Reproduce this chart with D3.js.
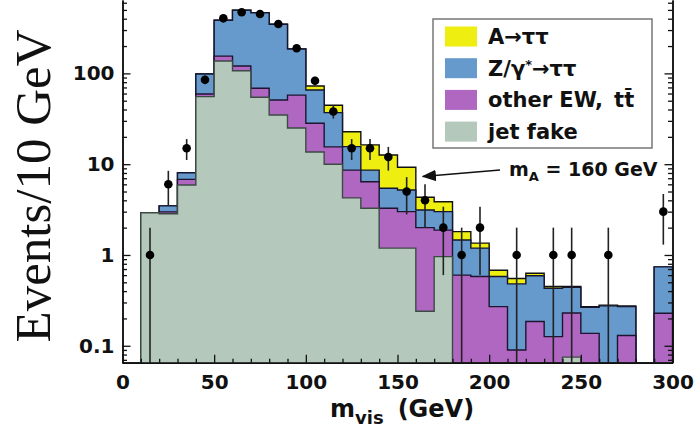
<!DOCTYPE html>
<html>
<head>
<meta charset="utf-8">
<script src="https://cdn.jsdelivr.net/npm/d3@7/dist/d3.min.js"></script>
<style>
  body { margin: 0; background: #fff; }
  svg { display: block; }
</style>
</head>
<body>
<svg id="chart" width="700" height="444"></svg>
<script>
// Visible-mass bins, 10 GeV wide (lower edges)
const binLow = [0, 10, 20, 30, 40, 50, 60, 70, 80, 90, 100, 110, 120, 130, 140,
                150, 160, 170, 180, 190, 200, 210, 220, 230, 240, 250, 260, 270, 280, 290];

// Expected events per bin for each process (stacked bottom to top)
const jetFake = [0, 2.92, 2.85, 5.9, 55.4, 137, 107, 54.6, 34.8, 25, 13.6, 10.0, 4.25, 3.27, 1.19,
                 1.19, 0.24, 0.96, 0, 0, 0, 0, 0, 0, 0.075, 0, 0, 0, 0, 0];
const otherEW = [0, 0, 0.13, 0.9, 3.9, 18, 13.5, 13.9, 16.2, 32.6, 14.6, 5.5, 4.35, 3.13, 2.08,
                 1.81, 1.76, 0.92, 0.60, 0.58, 0.27, 0.09, 0.185, 0.126, 0.155, 0.137, 0, 0.13, 0, 0.228];
const zTauTau = [0, 0, 0.49, 1.26, 39.2, 230, 375, 396, 297, 128, 37.4, 21.5, 7.0, 2.2, 2.16,
                 2.2, 1.13, 1.12, 0.86, 0.61, 0.31, 0.39, 0.405, 0.304, 0.21, 0.128, 0.275, 0.14, 0, 0.512];
const aTauTau = [0, 0, 0, 0, 0, 0, 0, 0, 0, 0.5, 7, 7.5, 7.2, 7.7, 7.17,
                 4.05, 1.19, 0.86, 0.35, 0.16, 0.10, 0.07, 0.04, 0.02, 0.01, 0.005, 0.005, 0.005, 0, 0];

// Observed data: bin centres, counts and error half-widths
const dataMass = [15, 25, 35, 45, 55, 65, 75, 85, 95, 105, 115, 125, 135, 145, 155, 165, 175,
                  185, 195, 215, 235, 245, 265, 295];
const dataCount = [1, 6, 15, 85, 404, 471, 451, 350, 189, 83, 38, 15, 15, 12, 5, 4, 2,
                   1, 2, 1, 1, 1, 1, 3];
const dataErr = [1, 2.45, 3.9, 9.2, 20, 21.7, 21.2, 18.7, 13.7, 9.1, 6.2, 3.9, 3.9, 3.5, 2.2, 2, 1.4,
                 1, 1.4, 1, 1, 1, 1, 1.7];

// Axis ticks
const xMajorTicks = [0, 50, 100, 150, 200, 250, 300];
const xMinorTicks = [10, 20, 30, 40, 60, 70, 80, 90, 110, 120, 130, 140, 160, 170, 180, 190,
                     210, 220, 230, 240, 260, 270, 280, 290];
const yMajorTicks = [0.1, 1, 10, 100];
const yTickLabels = ["0.1", "1", "10", "100"];

// Process keys and colours
const procKeys = ["jet", "ew", "z", "a"];
const procFill = { a: "#eeee10", z: "#6699cc", ew: "#b067c2", jet: "#b4c9bc" };
const procStroke = { a: "#111", z: "#151530", ew: "#1d1530", jet: "#3c4a44" };

const svg = d3.select("#chart");
const plotLeft = 122.5, plotRight = 672.5, plotBottom = 362.7, plotTop = 0;
const yMin = 0.0651, yMax = 643;

const x = d3.scaleLinear().domain([0, 300]).range([plotLeft, plotRight]);
const y = d3.scaleLog().domain([yMin, yMax]).range([plotBottom, plotTop]).clamp(true);
const yv = v => (v > yMin ? y(v) : plotBottom);

// Stack the processes
const rows = binLow.map((lo, i) => ({
  lo, jet: jetFake[i], ew: otherEW[i], z: zTauTau[i], a: aTauTau[i]
}));
const stacked = d3.stack().keys(procKeys)(rows);

const area = d3.area().x(d => d[0]).y0(plotBottom).y1(d => d[1]);
const line = d3.line().x(d => d[0]).y(d => d[1]);

const histG = svg.append("g");
// Draw cumulative histograms from the total downwards
stacked.slice().reverse().forEach(layer => {
  const pts = [];
  layer.forEach((d, i) => {
    const cum = d[1];
    pts.push([x(binLow[i]), yv(cum)]);
    pts.push([x(binLow[i] + 10), yv(cum)]);
  });
  histG.append("path")
    .attr("d", area(pts))
    .attr("fill", procFill[layer.key]);
  histG.append("path")
    .attr("d", line([[plotLeft, plotBottom], ...pts, [plotRight, plotBottom]]))
    .attr("fill", "none")
    .attr("stroke", procStroke[layer.key])
    .attr("stroke-width", 1.4);
});

// Data points with error bars
const dataG = svg.append("g");
dataMass.forEach((m, i) => {
  const n = dataCount[i], e = dataErr[i];
  dataG.append("line")
    .attr("x1", x(m)).attr("x2", x(m))
    .attr("y1", yv(n + e)).attr("y2", yv(n - e))
    .attr("stroke", "#222").attr("stroke-width", 1.6);
  dataG.append("circle")
    .attr("cx", x(m)).attr("cy", y(n)).attr("r", 4.3)
    .attr("fill", "#000");
});

// Axes
const tickFont = g => g.selectAll("text")
  .attr("font-family", "DejaVu Sans").attr("font-weight", "bold")
  .attr("font-size", 20).attr("fill", "#111");
const axisStyle = g => {
  g.select(".domain").attr("stroke", "#111").attr("stroke-width", 1.5);
  g.selectAll(".tick line").attr("stroke", "#111").attr("stroke-width", 1.3);
};

svg.append("g").attr("transform", `translate(0,${plotBottom})`)
  .call(d3.axisBottom(x).tickValues(xMinorTicks).tickSize(-4).tickSizeOuter(0).tickFormat(""))
  .call(axisStyle);
svg.append("g").attr("transform", `translate(0,${plotBottom})`)
  .call(d3.axisBottom(x).tickValues(xMajorTicks).tickSize(-8).tickSizeOuter(0).tickPadding(12)
        .tickFormat(d3.format("d")))
  .call(axisStyle).call(tickFont);

const yMinor = y.ticks().filter(v => !yMajorTicks.some(t => Math.abs(t - v) < 1e-9));
svg.append("g").attr("transform", `translate(${plotLeft},0)`)
  .call(d3.axisLeft(y).tickValues(yMinor).tickSize(-4.5).tickSizeOuter(0).tickFormat(""))
  .call(axisStyle);
svg.append("g").attr("transform", `translate(${plotLeft},0)`)
  .call(d3.axisLeft(y).tickValues(yMajorTicks).tickSize(-8).tickSizeOuter(0).tickPadding(8)
        .tickFormat((d, i) => yTickLabels[i]))
  .call(axisStyle).call(tickFont);
svg.append("g").attr("transform", `translate(${plotRight},0)`)
  .call(d3.axisRight(y).tickValues(yMinor).tickSize(-4.5).tickSizeOuter(0).tickFormat(""))
  .call(axisStyle);
svg.append("g").attr("transform", `translate(${plotRight},0)`)
  .call(d3.axisRight(y).tickValues(yMajorTicks).tickSize(-8).tickSizeOuter(0).tickFormat(""))
  .call(axisStyle);

// Axis titles
svg.append("text")
  .attr("transform", "translate(50,186) rotate(-90)")
  .attr("text-anchor", "middle")
  .attr("font-family", "Liberation Serif, Times New Roman, serif")
  .attr("font-size", 51).attr("fill", "#111")
  .text("Events/10 GeV");

const xt = svg.append("text")
  .attr("x", 330).attr("y", 417)
  .attr("font-family", "DejaVu Sans").attr("font-weight", "bold")
  .attr("font-size", 24).attr("fill", "#111");
xt.append("tspan").text("m");
xt.append("tspan").attr("font-size", 18).attr("dy", 7).text("vis");
xt.append("tspan").attr("dy", -7).attr("dx", 14).text("(GeV)");

// Legend
const legendLabels = [
  { key: "a", parts: [["A\u2192\u03c4\u03c4", 0, 0]] },
  { key: "z", parts: [["Z/\u03b3", 0, 0], ["*", -7, 0], ["\u2192\u03c4\u03c4", 7, 0]] },
  { key: "ew", parts: [["other EW,", 0, 0], ["tt\u0304", 0, 11]] },
  { key: "jet", parts: [["jet fake", 0, 0]] }
];
const lg = svg.append("g");
lg.append("rect").attr("x", 433).attr("y", 19).attr("width", 219).attr("height", 129)
  .attr("fill", "#fff").attr("stroke", "#777").attr("stroke-width", 1.5);
legendLabels.forEach((d, i) => {
  const cy = 36.5 + i * 31.7;
  lg.append("rect").attr("x", 445).attr("y", cy - 10).attr("width", 32).attr("height", 20)
    .attr("fill", procFill[d.key]);
  const t = lg.append("text").attr("x", 488).attr("y", cy + 7.5)
    .attr("font-family", "DejaVu Sans").attr("font-weight", "bold")
    .attr("font-size", 21).attr("fill", "#111");
  d.parts.forEach(([s, dy, dx]) => {
    const ts = t.append("tspan").attr("dy", dy).attr("dx", dx).text(s);
    if (s === "*") ts.attr("font-size", 13);
  });
});

// Signal mass annotation
svg.append("defs").append("marker")
  .attr("id", "ah").attr("viewBox", "0 0 10 10").attr("refX", 9).attr("refY", 5)
  .attr("markerWidth", 9).attr("markerHeight", 9).attr("orient", "auto")
  .append("path").attr("d", "M0,1 L10,5 L0,9 Z").attr("fill", "#111");
svg.append("line")
  .attr("x1", 500).attr("y1", 170).attr("x2", 423).attr("y2", 176.5)
  .attr("stroke", "#111").attr("stroke-width", 1.6).attr("marker-end", "url(#ah)");
const ma = svg.append("text").attr("x", 509).attr("y", 176)
  .attr("font-family", "DejaVu Sans").attr("font-weight", "bold")
  .attr("font-size", 19).attr("fill", "#111");
ma.append("tspan").text("m");
ma.append("tspan").attr("font-size", 13).attr("dy", 5).text("A");
ma.append("tspan").attr("dy", -5).text(" = 160 GeV");
</script>
</body>
</html>
